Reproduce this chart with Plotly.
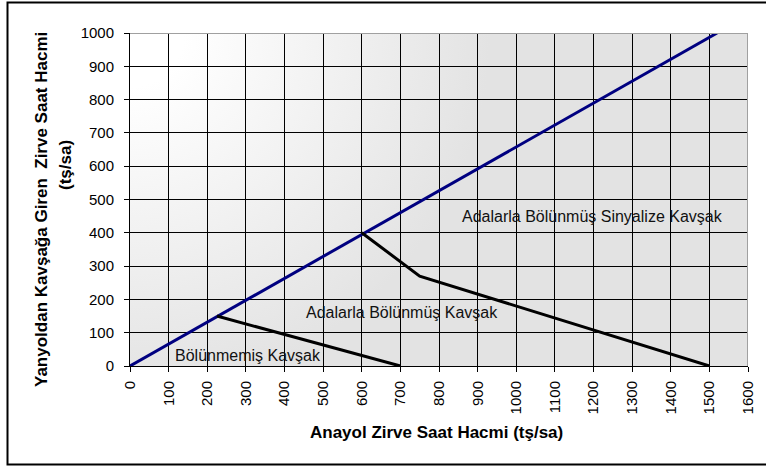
import base64
import plotly.graph_objects as go

# ---- data ----
x_ticks = list(range(0, 1700, 100))
y_ticks = list(range(0, 1100, 100))

boundary_x = [0, 1520]          # blue diagonal
boundary_y = [0, 1000]

undivided_x = [225, 700]        # Bölünmemiş Kavşak limit
undivided_y = [150, 0]

divided_x = [600, 750, 1500]    # Adalarla Bölünmüş Kavşak limit
divided_y = [400, 270, 0]

region_labels = ["Adalarla Bölünmüş Sinyalize Kavşak", "Adalarla Bölünmüş Kavşak", "Bölünmemiş Kavşak"]
region_x = [1197, 703, 306]
region_y = [448, 161, 33]

FONT = "Liberation Sans, Arial, sans-serif"

# plot area target (screen): x 130..748, y 33..366 (body margin removed below)
W, H = 766, 466
ML, MR, MT, MB = 130, 18, 33, 100
PW, PH = W - ML - MR, H - MT - MB


def px(sx):
    return (sx - ML) / PW


def py(sy):
    return 1 - (sy - MT) / PH


fig = go.Figure()
fig.add_trace(go.Scatter(x=boundary_x, y=boundary_y, mode="lines",
                         line=dict(color="#000080", width=3), showlegend=False, cliponaxis=False))
fig.add_trace(go.Scatter(x=undivided_x, y=undivided_y, mode="lines",
                         line=dict(color="#000000", width=3), showlegend=False))
fig.add_trace(go.Scatter(x=divided_x, y=divided_y, mode="lines",
                         line=dict(color="#000000", width=3), showlegend=False))

for t, x, y in zip(region_labels, region_x, region_y):
    fig.add_annotation(x=x, y=y, text=t, showarrow=False, xref="x", yref="y",
                       font=dict(family=FONT, size=16, color="#111111"))

# gradient background (from top-left corner)
svg = ('<svg xmlns="http://www.w3.org/2000/svg" width="618" height="333" viewBox="0 0 618 333" '
       'preserveAspectRatio="none"><defs><radialGradient id="g" gradientUnits="userSpaceOnUse" '
       'cx="0" cy="0" r="360"><stop offset="0" stop-color="#ffffff"/><stop offset="0.15" stop-color="#ffffff"/>'
       '<stop offset="1" stop-color="#e3e3e3"/></radialGradient></defs>'
       '<rect x="0" y="0" width="618" height="333" fill="url(#g)"/></svg>')
src = "data:image/svg+xml;base64," + base64.b64encode(svg.encode()).decode()
fig.add_layout_image(source=src, xref="x", yref="y", x=0, y=1000, sizex=1600, sizey=1000,
                     sizing="stretch", layer="below", xanchor="left", yanchor="top")

# plot frame (gray top/right)
fig.add_shape(type="line", xref="x", yref="y", x0=0, x1=1600, y0=1000, y1=1000,
              line=dict(color="#a0a0a0", width=2), layer="above")
fig.add_shape(type="line", xref="x", yref="y", x0=1600, x1=1600, y0=0, y1=1000,
              line=dict(color="#a0a0a0", width=2), layer="above")

# outer chart border
fig.add_shape(type="rect", xref="paper", yref="paper", x0=px(7.5), x1=px(790), y0=py(464.5), y1=py(2.5),
              line=dict(color="#000000", width=2), layer="above")

# axis titles
fig.add_annotation(text="Anayol Zirve Saat Hacmi (tş/sa)", xref="paper", yref="paper",
                   x=px(436), y=py(432), showarrow=False, xanchor="center", yanchor="middle",
                   font=dict(family=FONT, size=17, color="#000000", weight="bold"))
fig.add_annotation(text="Yanyoldan Kavşağa Giren  Zirve Saat Hacmi", xref="paper", yref="paper",
                   x=px(41), y=py(210), showarrow=False, textangle=-90, xanchor="center", yanchor="middle",
                   font=dict(family=FONT, size=17, color="#000000", weight="bold"))
fig.add_annotation(text="(tş/sa)", xref="paper", yref="paper",
                   x=px(66), y=py(165), showarrow=False, textangle=-90, xanchor="center", yanchor="middle",
                   font=dict(family=FONT, size=17, color="#000000", weight="bold"))

fig.update_xaxes(range=[0, 1600], tickvals=x_ticks, ticktext=[str(v) for v in x_ticks],
                 tickangle=-90, ticks="outside", ticklen=5, tickcolor="#000000", ticklabelstandoff=3,
                 showline=True, linecolor="#000000", linewidth=1,
                 showgrid=True, gridcolor="#000000", gridwidth=1.3, zeroline=False,
                 tickfont=dict(family=FONT, size=15, color="#000000"), fixedrange=True)
fig.update_yaxes(range=[0, 1000], tickvals=y_ticks, ticktext=[str(v) for v in y_ticks],
                 ticks="outside", ticklen=5, tickcolor="#000000", ticklabelstandoff=7,
                 showline=True, linecolor="#000000", linewidth=1,
                 showgrid=True, gridcolor="#000000", gridwidth=1.3, zeroline=False,
                 tickfont=dict(family=FONT, size=15, color="#000000"), fixedrange=True)

fig.update_layout(width=W, height=H, margin=dict(l=ML, r=MR, t=MT, b=MB, autoexpand=False),
                  paper_bgcolor="#ffffff", plot_bgcolor="#f0f0f0", showlegend=False,
                  font=dict(family=FONT))

fig.write_html("out.html", config={"displayModeBar": False},
               post_script="document.body.style.margin='0px';document.body.style.overflow='hidden';")
